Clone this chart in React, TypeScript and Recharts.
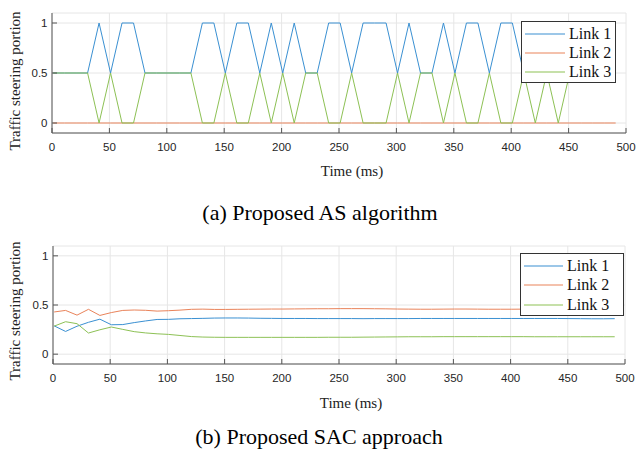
import React from 'react';
import { LineChart, Line, XAxis, YAxis, CartesianGrid, Legend } from 'recharts';

// sample times (ms)
const timeMs = [
  1, 11, 21, 31, 41, 51, 61, 71, 81, 91, 101, 111, 121, 131, 141, 151, 161, 171, 181, 191, 201, 211, 221, 231, 241,
  251, 261, 271, 281, 291, 301, 311, 321, 331, 341, 351, 361, 371, 381, 391, 401, 411, 421, 431, 441, 451, 461, 471,
  481, 491,
];

// (a) proposed AS algorithm
const asLink1 = [
  0.5, 0.5, 0.5, 0.5, 1, 0.5, 1, 1, 0.5, 0.5, 0.5, 0.5, 0.5, 1, 1, 0.5, 1, 1, 0.5, 1, 0.5, 1, 0.5, 0.5, 1,
  1, 0.5, 1, 1, 1, 0.5, 1, 0.5, 0.5, 1, 0.5, 1, 1, 0.5, 1, 1, 0.5, 1, 0.5, 1, 0.5, 0.5, 0.5, 0.5, 0.5,
];
const asLink2 = [
  0, 0, 0, 0, 0, 0, 0, 0, 0, 0, 0, 0, 0, 0, 0, 0, 0, 0, 0, 0, 0, 0, 0, 0, 0,
  0, 0, 0, 0, 0, 0, 0, 0, 0, 0, 0, 0, 0, 0, 0, 0, 0, 0, 0, 0, 0, 0, 0, 0, 0,
];
const asLink3 = [
  0.5, 0.5, 0.5, 0.5, 0, 0.5, 0, 0, 0.5, 0.5, 0.5, 0.5, 0.5, 0, 0, 0.5, 0, 0, 0.5, 0, 0.5, 0, 0.5, 0.5, 0,
  0, 0.5, 0, 0, 0, 0.5, 0, 0.5, 0.5, 0, 0.5, 0, 0, 0.5, 0, 0, 0.5, 0, 0.5, 0, 0.5, 0.5, 0.5, 0.5, 0.5,
];

// (b) proposed SAC approach
const sacLink1 = [
  0.288, 0.231, 0.284, 0.324, 0.356, 0.299, 0.301, 0.321, 0.338, 0.353, 0.354, 0.36, 0.362, 0.364, 0.367, 0.368,
  0.368, 0.367, 0.365, 0.364, 0.363, 0.363, 0.363, 0.362, 0.362, 0.362, 0.362, 0.361, 0.362, 0.362, 0.362, 0.362,
  0.363, 0.363, 0.363, 0.363, 0.363, 0.363, 0.363, 0.363, 0.363, 0.363, 0.363, 0.363, 0.363, 0.362, 0.361, 0.36,
  0.36, 0.361,
];
const sacLink2 = [
  0.429, 0.445, 0.397, 0.456, 0.394, 0.423, 0.445, 0.449, 0.446, 0.438, 0.442, 0.448, 0.456, 0.458, 0.455, 0.455,
  0.456, 0.457, 0.458, 0.459, 0.459, 0.46, 0.461, 0.462, 0.462, 0.463, 0.463, 0.463, 0.462, 0.461, 0.459, 0.458,
  0.457, 0.457, 0.458, 0.459, 0.459, 0.458, 0.457, 0.457, 0.457, 0.458, 0.459, 0.46, 0.46, 0.461, 0.461, 0.461,
  0.461, 0.461,
];
const sacLink3 = [
  0.285, 0.33, 0.31, 0.215, 0.248, 0.276, 0.252, 0.229, 0.216, 0.207, 0.201, 0.19, 0.179, 0.174, 0.172, 0.171,
  0.171, 0.171, 0.171, 0.171, 0.171, 0.171, 0.171, 0.171, 0.172, 0.172, 0.172, 0.173, 0.174, 0.175, 0.176, 0.177,
  0.177, 0.177, 0.178, 0.178, 0.178, 0.178, 0.178, 0.178, 0.178, 0.178, 0.177, 0.177, 0.177, 0.177, 0.177, 0.177,
  0.177, 0.177,
];

const xTicks = [0, 50, 100, 150, 200, 250, 300, 350, 400, 450, 500];
const yTicks = [0, 0.5, 1];
const linkNames = ['Link 1', 'Link 2', 'Link 3'];
const linkColors = ['#3a90d2', '#e9835a', '#8dc155'];

const AXIS = '#555';
const GRID = '#e6e6e6';
const TICK_LEN = 5;
const SANS = '"Liberation Sans", Arial, sans-serif';
const SERIF = '"Liberation Serif", "Times New Roman", serif';

const buildRows = (a: number[], b: number[], c: number[]) =>
  timeMs.map((t, i) => ({ t, l1: a[i], l2: b[i], l3: c[i] }));

const asRows = buildRows(asLink1, asLink2, asLink3);
const sacRows = buildRows(sacLink1, sacLink2, sacLink3);

const BottomTick = (props: any) => {
  const { x, y, payload } = props;
  return (
    <g>
      <line x1={x} x2={x} y1={y} y2={y - TICK_LEN} stroke={AXIS} />
      <text x={x} y={y + 18} textAnchor="middle" fontSize={11.5} fill="#262626" fontFamily={SANS}>
        {payload.value}
      </text>
    </g>
  );
};

const TopTick = (props: any) => {
  const { x, y } = props;
  return <line x1={x} x2={x} y1={y} y2={y + TICK_LEN} stroke={AXIS} />;
};

const LeftTick = (props: any) => {
  const { x, y, payload } = props;
  return (
    <g>
      <line x1={x} x2={x + TICK_LEN} y1={y} y2={y} stroke={AXIS} />
      <text x={x - 4.5} y={y + 4} textAnchor="end" fontSize={11.5} fill="#262626" fontFamily={SANS}>
        {payload.value}
      </text>
    </g>
  );
};

const RightTick = (props: any) => {
  const { x, y } = props;
  return <line x1={x} x2={x - TICK_LEN} y1={y} y2={y} stroke={AXIS} />;
};

interface LegendBox {
  left: number;
  top: number;
  w: number;
  h: number;
  firstRow: number;
  rowGap: number;
  lineW: number;
  textLeft: number;
}

const makeLegend = (box: LegendBox) => (props: any) => {
  const { payload } = props;
  return (
    <div
      style={{
        position: 'relative',
        width: box.w,
        height: box.h,
        boxSizing: 'border-box',
        border: '1px solid #333',
        background: '#fff',
      }}
    >
      {(payload || []).map((entry: any, i: number) => {
        const cy = box.firstRow + i * box.rowGap;
        return (
          <div key={entry.value} style={{ position: 'absolute', left: 0, top: cy - 10, height: 20, width: box.w }}>
            <svg width={box.w} height={20} style={{ position: 'absolute', left: 0, top: 0 }}>
              <line x1={3} x2={3 + box.lineW} y1={10} y2={10} stroke={entry.color} strokeWidth={1.2} />
            </svg>
            <span
              style={{
                position: 'absolute',
                left: box.textLeft,
                top: 0,
                lineHeight: '20px',
                fontFamily: SERIF,
                fontSize: 16,
                color: '#111',
                whiteSpace: 'nowrap',
              }}
            >
              {entry.value}
            </span>
          </div>
        );
      })}
    </div>
  );
};

interface PanelProps {
  rows: Array<{ t: number; l1: number; l2: number; l3: number }>;
  top: number;
  margin: { top: number; right: number; left: number; bottom: number };
  legend: LegendBox;
}

const Panel: React.FC<PanelProps> = ({ rows, top, margin, legend }) => (
  <div style={{ position: 'absolute', left: 0, top, width: 636, height: 160 }}>
    <LineChart width={636} height={160} data={rows} margin={margin}>
      <CartesianGrid stroke={GRID} />
      <XAxis
        dataKey="t"
        type="number"
        domain={[0, 500]}
        ticks={xTicks}
        height={20}
        tickSize={0}
        tickMargin={0}
        tickLine={false}
        axisLine={{ stroke: AXIS }}
        tick={BottomTick}
        interval={0}
      />
      <XAxis
        xAxisId="top"
        orientation="top"
        type="number"
        domain={[0, 500]}
        ticks={xTicks}
        height={0}
        tickSize={0}
        tickMargin={0}
        tickLine={false}
        axisLine={{ stroke: AXIS }}
        tick={TopTick}
        interval={0}
      />
      <YAxis
        type="number"
        domain={[-0.1, 1.1]}
        ticks={yTicks}
        width={40}
        tickSize={0}
        tickMargin={0}
        tickLine={false}
        axisLine={{ stroke: AXIS }}
        tick={LeftTick}
        interval={0}
      />
      <YAxis
        yAxisId="right"
        orientation="right"
        type="number"
        domain={[-0.1, 1.1]}
        ticks={yTicks}
        width={0}
        tickSize={0}
        tickMargin={0}
        tickLine={false}
        axisLine={{ stroke: AXIS }}
        tick={RightTick}
        interval={0}
      />
      <Line type="linear" dataKey="l1" name={linkNames[0]} stroke={linkColors[0]} strokeWidth={1} dot={false} isAnimationActive={false} />
      <Line type="linear" dataKey="l2" name={linkNames[1]} stroke={linkColors[1]} strokeWidth={1} dot={false} isAnimationActive={false} />
      <Line type="linear" dataKey="l3" name={linkNames[2]} stroke={linkColors[2]} strokeWidth={1} dot={false} isAnimationActive={false} />
      <Legend
        layout="horizontal"
        verticalAlign="middle"
        align="center"
        wrapperStyle={{ left: legend.left, top: legend.top, width: legend.w, height: legend.h }}
        content={makeLegend(legend)}
      />
    </LineChart>
  </div>
);

export default function App() {
  return (
    <div style={{ position: 'absolute', left: 0, top: 0, width: 636, height: 449, background: '#fff', overflow: 'hidden' }}>
      <Panel
        rows={asRows}
        top={0}
        margin={{ top: 13, right: 10, left: 12, bottom: 7 }}
        legend={{ left: 521, top: 21, w: 95, h: 62, firstRow: 11.5, rowGap: 19.3, lineW: 40, textLeft: 47 }}
      />
      <Panel
        rows={sacRows}
        top={232}
        margin={{ top: 14, right: 11, left: 13, bottom: 8 }}
        legend={{ left: 520, top: 21, w: 104, h: 63, firstRow: 11.5, rowGap: 19.5, lineW: 39, textLeft: 46 }}
      />
      <svg width={636} height={449} style={{ position: 'absolute', left: 0, top: 0, pointerEvents: 'none' }}>
        <g fontFamily={SERIF} fill="#222">
          <text transform="translate(20, 81) rotate(-90)" textAnchor="middle" fontSize={15}>
            Traffic steering portion
          </text>
          <text transform="translate(20, 311) rotate(-90)" textAnchor="middle" fontSize={15}>
            Traffic steering portion
          </text>
          <text x={352} y={176} textAnchor="middle" fontSize={15}>
            Time (ms)
          </text>
          <text x={351} y={408} textAnchor="middle" fontSize={15}>
            Time (ms)
          </text>
        </g>
        <g fontFamily={SERIF} fill="#000">
          <text x={320} y={220} textAnchor="middle" fontSize={22}>
            (a) Proposed AS algorithm
          </text>
          <text x={319} y={444} textAnchor="middle" fontSize={22}>
            (b) Proposed SAC approach
          </text>
        </g>
      </svg>
    </div>
  );
}
